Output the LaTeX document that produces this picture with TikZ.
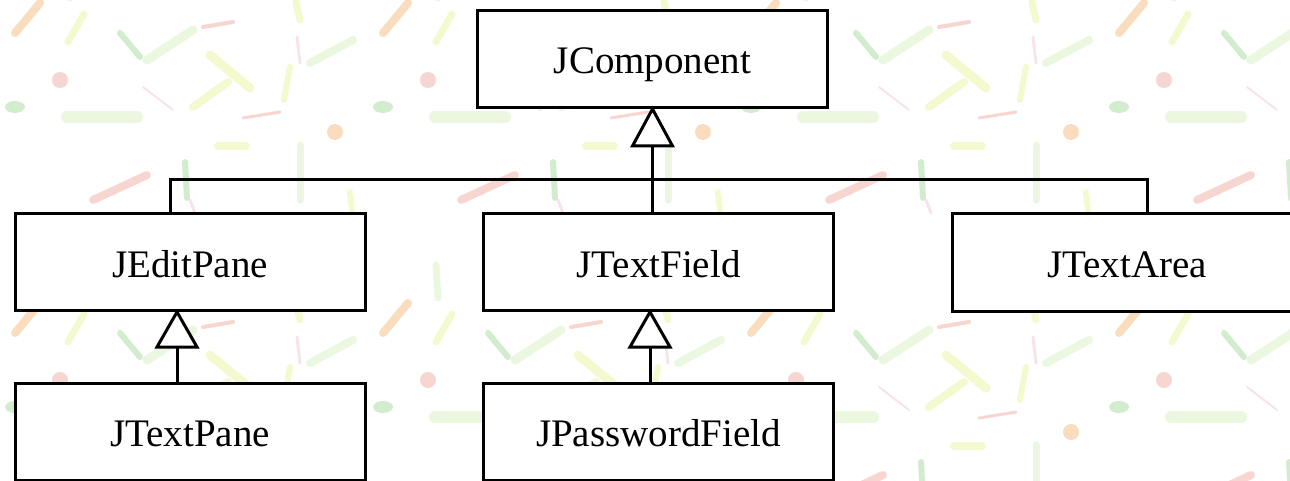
\documentclass[tikz,border=0pt]{standalone}
\usepackage{fontspec}
\setmainfont{Liberation Serif}
\usetikzlibrary{calc}

% pale brush-stroke wallpaper colours
\definecolor{bgorange}{HTML}{F7C08A}
\definecolor{bgred}{HTML}{F2B3AA}
\definecolor{bggreen}{HTML}{AEDFA6}
\definecolor{bglgreen}{HTML}{DDF2C8}
\definecolor{bgyellow}{HTML}{EEF5A8}
\definecolor{bgpink}{HTML}{F0D0D6}

\tikzset{
  stroke/.style={line cap=round, line width=#1},
  classbox/.style={draw, line width=3pt, fill=white, inner sep=0pt,
    minimum width=350pt, minimum height=97pt,
    text height=30pt, text depth=0pt,
    font=\fontsize{39}{47}\selectfont},
  link/.style={line width=3pt},
  inherit/.style={line width=3pt, fill=white, line join=miter}
}

% one tile of the wallpaper, 368 x 300
\newcommand{\wallpapertile}{%
  \draw[stroke=8pt, bgorange] (15,33) -- (40,3);
  \draw[stroke=7pt, bgyellow] (68,42) -- (84,14);
  \draw[stroke=6pt, bggreen] (120,33) -- (140,57);
  \draw[stroke=9pt, bglgreen] (147,60) -- (193,30);
  \draw[stroke=4pt, bgred] (203,27) -- (233,22);
  \draw[stroke=9pt, bgyellow] (210,55) -- (250,88);
  \draw[stroke=8pt, bgyellow] (193,107) -- (228,82);
  \draw[stroke=6pt, bgyellow] (284,100) -- (290,67);
  \draw[stroke=7pt, bgyellow] (296,2) -- (300,20);
  \draw[stroke=3pt, bgpink] (297,37) -- (300,63);
  \draw[stroke=8pt, bglgreen] (310,63) -- (353,40);
  \fill[bgred] (60,80) circle (8);
  \fill[bggreen] (15,107) ellipse (10 and 6);
  \draw[stroke=12pt, bglgreen] (67,117) -- (137,117);
  \draw[stroke=2pt, bgpink] (143,87) -- (173,110);
  \draw[stroke=3pt, bgred] (243,118) -- (280,112);
  \fill[bgorange] (335,132) circle (8);
  \draw[stroke=8pt, bgyellow] (218,146) -- (246,146);
  \draw[stroke=6pt, bggreen] (185,162) -- (187,198);
  \draw[stroke=7pt, bglgreen] (300,145) -- (300,200);
  \draw[stroke=8pt, bgred] (93,200) -- (147,175);
  \draw[stroke=6pt, bgyellow] (350,192) -- (352,210);
  \draw[stroke=3pt, bgpink] (190,200) -- (195,213);
  \draw[stroke=7pt, bglgreen] (68,265) -- (70,298);
}

\begin{document}
\begin{tikzpicture}[x=1pt, y=-1pt]
  \useasboundingbox (0,0) rectangle (1290,481);
  \clip (0,0) rectangle (1290,481);
  \fill[white] (0,0) rectangle (1290,481);

  % wallpaper, kept faint
  \begin{scope}[opacity=0.55]
  \foreach \i in {-1,0,1,2,3} {
    \foreach \j in {-1,0,1} {
      \begin{scope}[shift={(368*\i,300*\j)}]
        \wallpapertile
      \end{scope}
    }
  }
  \end{scope}

  % classes
  \node[classbox] (jc)  at (652.5,59)   {JComponent};
  \node[classbox] (jep) at (190,262)    {JEditPane};
  \node[classbox] (jtf) at (658.5,262)  {JTextField};
  \node[classbox] (jta) at (1127,262.5) {JTextArea};
  \node[classbox] (jtp) at (190,431.5)  {JTextPane};
  \node[classbox] (jpf) at (658.5,431.5){JPasswordField};

  % generalisation arrow heads
  \coordinate (tipA) at (jc.south);
  \coordinate (baseA) at ($(tipA)+(0,37)$);
  \coordinate (tipB) at ([xshift=-13pt]jep.south);
  \coordinate (baseB) at ($(tipB)+(0,35)$);
  \coordinate (tipC) at ([xshift=-8.5pt]jtf.south);
  \coordinate (baseC) at ($(tipC)+(0,35)$);

  % JComponent subclasses via a shared bus
  \coordinate (bus) at ($(jep.north)+(-20,-32)$);
  \draw[link] ([xshift=-20pt]jep.north) -- (bus) -| ([xshift=20pt]jta.north);
  \draw[link] (baseA) -- (baseA |- jtf.north);

  % single-child links
  \draw[link] (baseB) -- (baseB |- jtp.north);
  \draw[link] (baseC) -- (baseC |- jpf.north);

  % open triangles
  \draw[inherit] (tipA) -- ($(baseA)+(-20,0)$) -- ($(baseA)+(20,0)$) -- cycle;
  \draw[inherit] (tipB) -- ($(baseB)+(-20,0)$) -- ($(baseB)+(20,0)$) -- cycle;
  \draw[inherit] (tipC) -- ($(baseC)+(-20,0)$) -- ($(baseC)+(20,0)$) -- cycle;
\end{tikzpicture}
\end{document}
